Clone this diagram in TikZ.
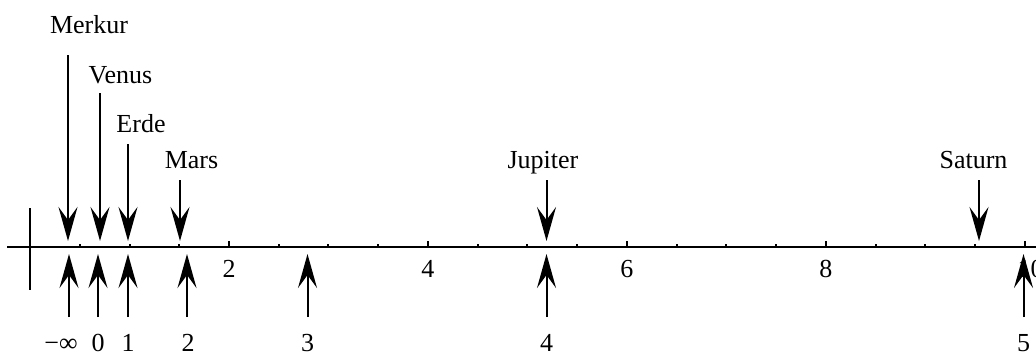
\documentclass[tikz,border=0pt]{standalone}
\usepackage{fontspec}
\setmainfont{Liberation Serif}
\usetikzlibrary{arrows.meta}
\begin{document}
\begin{tikzpicture}[x=0.5pt,y=-0.5pt,
  lbl/.style={font=\fontsize{13}{15}\selectfont, inner sep=0pt, anchor=base},
  blbl/.style={lbl, text depth=0pt},
  darrow/.style={line width=1pt, -{Stealth[length=17pt,width=9.5pt,inset=6.5pt]}},
  axisline/.style={line width=1pt},
  tickline/.style={line width=1pt}]
\useasboundingbox (0,0) rectangle (1036,354);
% axis
\coordinate (axL) at (7,247);
\coordinate (axR) at (1045,247);
\draw[axisline] (axL) -- (axR);
\coordinate (vT) at (30,208);
\coordinate (vB) at (30,290);
\draw[axisline] (vT) -- (vB);
% ticks
\foreach \k in {1,...,20}{
  \pgfmathsetmacro{\tx}{30.1+49.73*\k}
  \pgfmathtruncatemacro{\ismaj}{mod(\k,4)==0 ? 1 : 0}
  \ifnum\ismaj=1
    \draw[tickline] (\tx,247) -- (\tx,241);
  \else
    \draw[tickline] (\tx,247) -- (\tx,244);
  \fi
}
\foreach \v/\t/\dx in {2/2/0,4/4/0,6/6/0,8/8/0,10/10/6}{
  \pgfmathsetmacro{\tx}{30.1+99.46*\v+\dx}
  \node[lbl] (tick\v) at (\tx,277) {\t};
}
% planets (down arrows)
\foreach \n/\lx/\ly/\ax/\ay in {Merkur/89/33/68/55, Venus/120.5/83.5/100/93, Erde/141/132.7/128/144, Mars/191.5/168/180/180, Jupiter/543/168/546.5/180, Saturn/973.5/168.5/979/180}{
  \node[lbl] (\n) at (\lx,\ly) {\n};
  \coordinate (\n S) at (\ax,\ay);
  \coordinate (\n T) at (\ax,241);
  \draw[darrow] (\n S) -- (\n T);
}
% Titius-Bode (up arrows)
\foreach \i/\ax/\lx/\t in {a/69/61/−∞, b/98/98/0, c/128/128/1, d/187/188/2, e/307.5/307.5/3, f/546.5/546.5/4, g/1023.5/1023.5/5}{
  \coordinate (b\i S) at (\ax,317);
  \coordinate (b\i T) at (\ax,254);
  \draw[darrow] (b\i S) -- (b\i T);
  \node[blbl] (bl\i) at (\lx,351) {\t};
}
\end{tikzpicture}
\end{document}
